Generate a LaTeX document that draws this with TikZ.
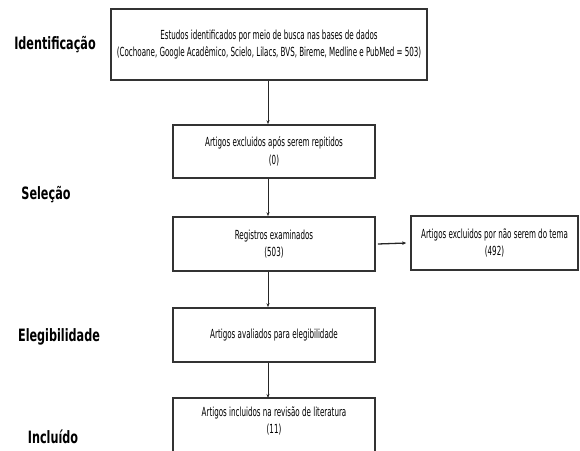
\documentclass[tikz,border=0pt]{standalone}
\usepackage{fontspec}
\setmainfont{DejaVu Sans}[FakeStretch=0.57]
\newfontfamily\labelfont{DejaVu Sans}[FakeStretch=0.66]
\usetikzlibrary{arrows.meta}
\begin{document}
\begin{tikzpicture}[x=1pt,y=-1pt,
  box/.style={draw=black!80, line width=1.6pt, fill=white, inner sep=0pt, align=center,
    font=\fontsize{12.5}{17.5}\selectfont},
  stage/.style={font=\labelfont\bfseries\fontsize{17}{19}\selectfont, anchor=center},
  arr/.style={-{Stealth[length=4pt,width=3pt]}, line width=0.7pt, black!85}]
\useasboundingbox (0,0) rectangle (580,450);
\node[box, minimum width=316pt, minimum height=71pt] (b1) at (269,44.5) {Estudos identificados por meio de busca nas bases de dados\\(Cochoane, Google Acadêmico, Scielo, Lilacs, BVS, Bireme, Medline e PubMed = 503)};
\node[box, minimum width=202pt, minimum height=53pt] (b2) at (274,151.5) {Artigos excluidos após serem repitidos\\(0)};
\node[box, minimum width=202pt, minimum height=54pt] (b3) at (274,244) {Registros examinados\\(503)};
\node[box, minimum width=167pt, minimum height=54pt] (b4) at (494.5,243) {Artigos excluidos por não serem do tema\\(492)};
\node[box, minimum width=202pt, minimum height=54pt] (b5) at (274,335) {Artigos avaliados para elegibilidade};
\draw[draw=black!80, line width=1.6pt] (173,470) -- (173,398) -- (375,398) -- (375,470);
\node[inner sep=0pt, align=center, font=\fontsize{12.5}{17.5}\selectfont] (b6) at (274,421) {Artigos incluidos na revisão de literatura\\(11)};
\coordinate (b6top) at (274,398);
\coordinate (ax) at (268,0);
\draw[arr] (b1.south -| ax) -- (b2.north -| ax);
\draw[arr] (b2.south -| ax) -- (b3.north -| ax);
\draw[arr] (b3.south -| ax) -- (b5.north -| ax);
\draw[arr] (b5.south -| ax) -- (b6top -| ax);
\draw[-{Stealth[length=4pt,width=3.5pt]}, line width=1.3pt, black!85] ([xshift=2pt]b3.east) -- ([xshift=-4pt]b4.west);
\node[stage] (s1) at (55,45) {Identificação};
\node[stage] (s2) at (46,195) {Seleção};
\node[stage] (s3) at (59,337) {Elegibilidade};
\node[stage] (s4) at (53,437) {Incluído};
\end{tikzpicture}
\end{document}
